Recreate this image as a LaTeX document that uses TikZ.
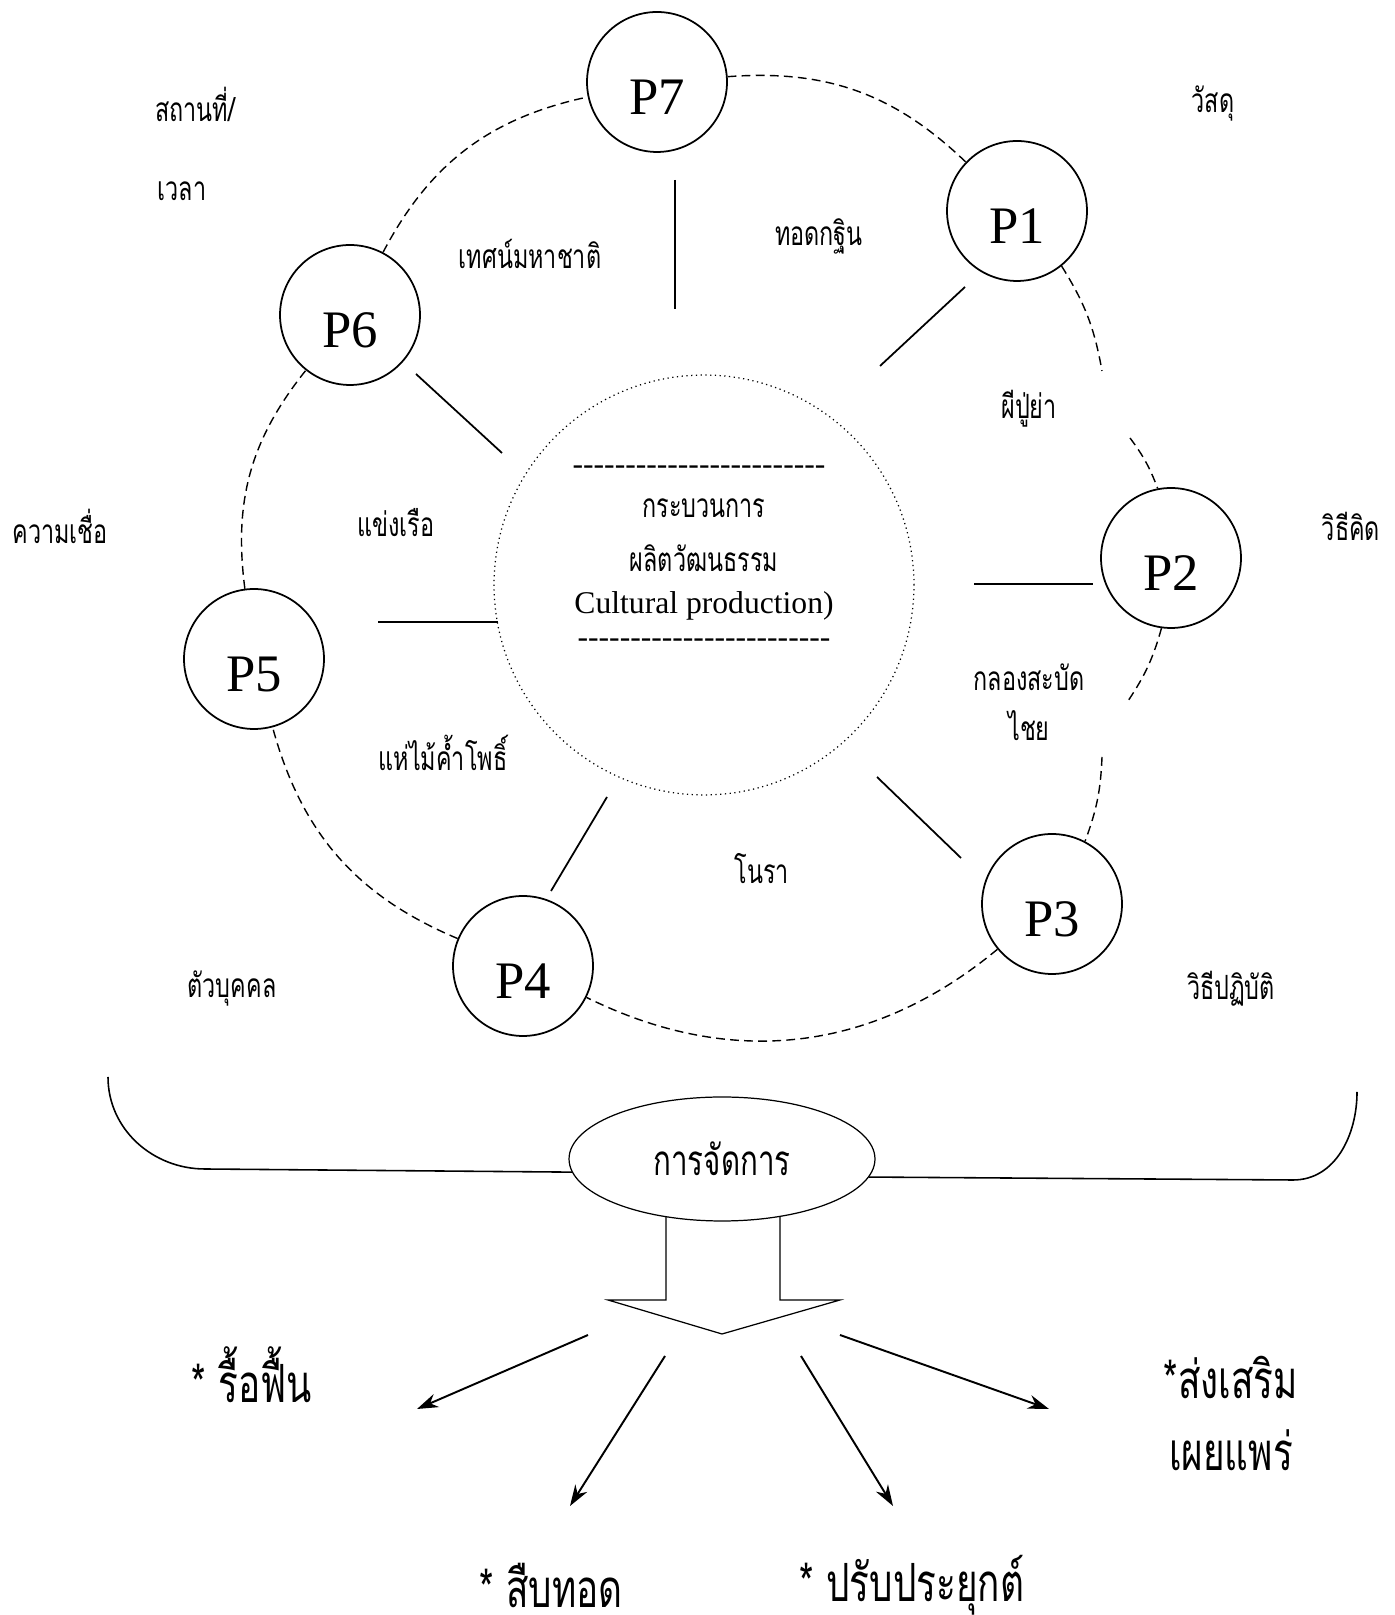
\documentclass[tikz,border=0pt]{standalone}
\usepackage{fontspec}
\setmainfont{Liberation Serif}
\newfontfamily\thai[Script=Thai,FakeStretch=0.7]{Loma}
\usetikzlibrary{arrows.meta,shapes.geometric}

\newcommand{\dashrow}{\foreach \k in {1,...,24}{-}}

\begin{document}
\begin{tikzpicture}[x=0.02cm,y=0.02cm,>={Stealth[length=12pt,width=8pt]},
  pnode/.style={circle,draw,line width=1pt,minimum size=2.8cm,inner sep=0pt,
    text height=1.3cm,text depth=0pt,font=\fontsize{30}{32}\selectfont},
  ring/.style={dash pattern=on 5pt off 3pt,line width=0.8pt},
  spoke/.style={line width=1pt},
  lbl/.style={font=\thai\fontsize{19}{22}\selectfont,inner sep=0pt},
  big/.style={font=\thai\fontsize{30}{34}\selectfont,inner sep=0pt}]

\useasboundingbox (0,0) rectangle (1395,1615);

\node[pnode] (p7) at (657,1533) {P7};
\node[pnode] (p1) at (1017,1404) {P1};
\node[pnode] (p2) at (1171,1057) {P2};
\node[pnode] (p3) at (1052,711) {P3};
\node[pnode] (p4) at (523,649) {P4};
\node[pnode] (p5) at (254,956) {P5};
\node[pnode] (p6) at (350,1300) {P6};
\node[circle,draw,dotted,line width=0.7pt,minimum size=8.4cm] (core) at (704,1030) {};

\coordinate (g1) at (1102,1244);
\coordinate (g2) at (1130,1177);
\coordinate (g3) at (1128,914);
\coordinate (g4) at (1102,858);
\draw[ring] (p7) to[bend left=24] (p1);
\draw[ring] (p1) to[bend left=11] (g1);
\draw[ring] (g2) to[bend left=8] (p2);
\draw[ring] (p2) to[bend left=9] (g3);
\draw[ring] (g4) to[bend left=9] (p3);
\draw[ring] (p3) to[bend left=33] (p4);
\draw[ring] (p4) to[bend left=26] (p5);
\draw[ring] (p5) to[bend left=23] (p6);
\draw[ring] (p6) to[bend left=25] (p7);

\foreach \n/\ax/\ay/\bx/\by in {7/675/1435/675/1306, 1/965/1328/880/1249,
    2/974/1031/1093/1031, 3/877/838/961/757, 4/607/818/551/724,
    5/378/993/498/993, 6/416/1241/502/1162}{
  \coordinate (s\n a) at (\ax,\ay);
  \coordinate (s\n b) at (\bx,\by);
  \draw[spoke] (s\n a) -- (s\n b);
}

\node[lbl] (place) at (195,1511) {สถานที่/};
\node[lbl] (time) at (182,1424) {เวลา};
\node[lbl] (material) at (1213,1511) {วัสดุ};
\node[lbl] (thinking) at (1351,1089) {วิธีคิด};
\node[lbl] (belief) at (60,1089) {ความเชื่อ};
\node[lbl] (person) at (232,626) {ตัวบุคคล};
\node[lbl] (practice) at (1231,626) {วิธีปฏิบัติ};

\node[lbl] (sermon) at (530,1361) {เทศน์มหาชาติ};
\node[lbl] (kathin) at (819,1379) {ทอดกฐิน};
\node[lbl] (spirit) at (1029,1206) {ผีปู่ย่า};
\node[lbl] (boat) at (396,1092) {แข่งเรือ};
\node[lbl] (drum) at (1029,938) {กลองสะบัด};
\node[lbl] (drumb) at (1029,889) {ไชย};
\node[lbl] (bodhi) at (443,862) {แห่ไม้ค้ำโพธิ์};
\node[lbl] (nora) at (762,746) {โนรา};

\node[font=\fontsize{18}{20}\selectfont,inner sep=0pt] (rowa) at (699,1145) {\dashrow};
\node[lbl] (proc) at (704,1107) {กระบวนการ};
\node[lbl] (prod) at (704,1057) {ผลิตวัฒนธรรม};
\node[font=\fontsize{18}{20}\selectfont,inner sep=0pt] (eng) at (704,1009) {Cultural production)};
\node[font=\fontsize{18}{20}\selectfont,inner sep=0pt] (rowb) at (704,972) {\dashrow};

\node[ellipse,draw,line width=0.7pt,minimum width=6.12cm,minimum height=2.48cm,
  font=\thai\fontsize{24}{28}\selectfont] (mgmt) at (722,456) {การจัดการ};
\draw[line width=0.7pt] (666,398) -- (666,315) -- (608,315) -- (722,281)
  -- (840,315) -- (780,315) -- (780,398);

\coordinate (bl) at (108,538);
\coordinate (br) at (1357,523);
\draw[line width=0.9pt] (bl) to[out=-90,in=180] (205,446) -- (mgmt.185);
\draw[line width=0.9pt] (mgmt.-7) -- (1293,435) to[out=0,in=-90] (br);

\coordinate (a1s) at (588,280);
\coordinate (a1e) at (417,206);
\coordinate (a2s) at (665,259);
\coordinate (a2e) at (570,109);
\coordinate (a3s) at (801,259);
\coordinate (a3e) at (893,109);
\coordinate (a4s) at (840,280);
\coordinate (a4e) at (1049,206);
\foreach \i in {1,...,4}
  \draw[->,line width=1.1pt] (a\i s) -- (a\i e);

\node[big] (revive) at (252,240) {* รื้อฟื้น};
\node[big] (promote) at (1231,238) {*ส่งเสริม};
\node[big] (spread) at (1231,165) {เผยแพร่};
\node[big] (inherit) at (551,30) {* สืบทอด};
\node[big] (adapt) at (912,30) {* ปรับประยุกต์};

\end{tikzpicture}
\end{document}
